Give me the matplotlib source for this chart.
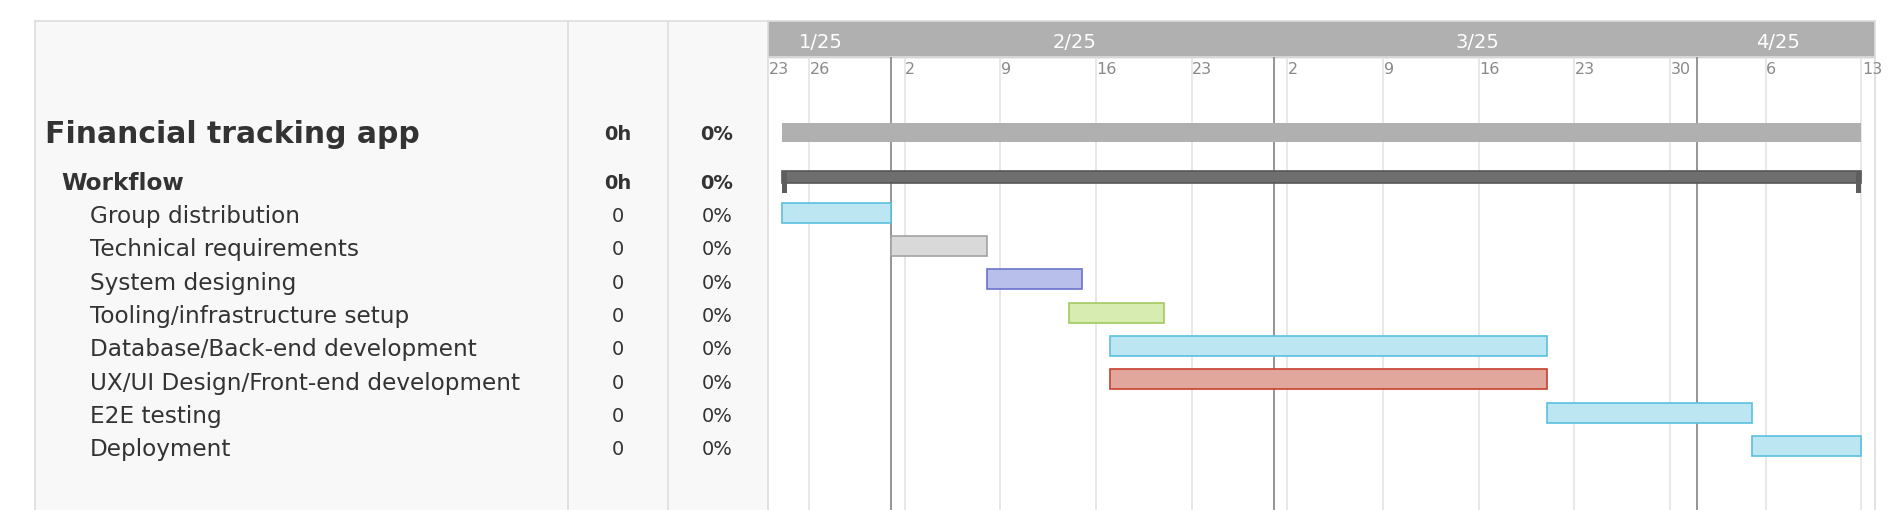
import matplotlib.pyplot as plt
import matplotlib.dates as mdates
import pandas as pd

# data
project_name = 'Financial tracking app'
group_name = 'Workflow'
tasks = ['Group distribution', 'Technical requirements', 'System designing',
         'Tooling/infrastructure setup', 'Database/Back-end development',
         'UX/UI Design/Front-end development', 'E2E testing', 'Deployment']
starts = ['2025-01-24', '2025-02-01', '2025-02-08', '2025-02-14',
          '2025-02-17', '2025-02-17', '2025-03-21', '2025-04-05']
ends = ['2025-02-01', '2025-02-08', '2025-02-15', '2025-02-21',
        '2025-03-21', '2025-03-21', '2025-04-05', '2025-04-13']
hours = ['0', '0', '0', '0', '0', '0', '0', '0']
progress = ['0%', '0%', '0%', '0%', '0%', '0%', '0%', '0%']
project_hours = '0h'
project_progress = '0%'
view_start = '2025-01-23'
view_end = '2025-04-14'

fills = ['#bce6f1', '#d9d9d9', '#b8bfeb', '#d7ecb0',
         '#bce6f1', '#e1a79c', '#bce6f1', '#bce6f1']
edges = ['#5bc0de', '#a3a3a3', '#6a73c9', '#a2c95f',
         '#5bc0de', '#c8402e', '#5bc0de', '#5bc0de']

s = mdates.date2num(pd.to_datetime(starts))
e = mdates.date2num(pd.to_datetime(ends))
v0 = mdates.date2num(pd.Timestamp(view_start))
v1 = mdates.date2num(pd.Timestamp(view_end))
p0, p1 = s.min(), e.max()

W, H = 1888, 510
top = 21
row = 33.33
ymax = (H - top) / row
head = 36 / row

fig = plt.figure(figsize=(W / 100, H / 100 + 0.001), dpi=100)
table = fig.add_axes([35 / W, 0, (768 - 35) / W, (H - top) / H])
gantt = fig.add_axes([768 / W, 0, (1875 - 768) / W, (H - top) / H])

for ax in (table, gantt):
    ax.set_ylim(ymax, 0)
    ax.set_xticks([])
    ax.set_yticks([])
    ax.spines['bottom'].set_visible(False)
    for sp in ('left', 'top', 'right'):
        ax.spines[sp].set_color('#dddddd')
        ax.spines[sp].set_linewidth(1.2)

# left table
table.set_facecolor('#f8f8f8')
table.set_xlim(0, 733)
table.spines['right'].set_visible(False)
table.axvline(533, color='#dddddd', lw=1.2)
table.axvline(633, color='#dddddd', lw=1.2)

y_proj = 3.4
y_group = 4.87
y_tasks = [5.86 + i for i in range(len(tasks))]

table.text(9.8, y_proj, project_name, fontsize=21.5, fontweight='bold',
           color='#333333', va='center')
table.text(583, y_proj, project_hours, fontsize=14, fontweight='bold',
           color='#333333', va='center', ha='center')
table.text(682, y_proj, project_progress, fontsize=14, fontweight='bold',
           color='#333333', va='center', ha='center')
table.text(26, y_group, group_name, fontsize=16.7, fontweight='bold',
           color='#333333', va='center')
table.text(583, y_group, project_hours, fontsize=14, fontweight='bold',
           color='#333333', va='center', ha='center')
table.text(682, y_group, project_progress, fontsize=14, fontweight='bold',
           color='#333333', va='center', ha='center')
for y, name, h, p in zip(y_tasks, tasks, hours, progress):
    table.text(54.6, y, name, fontsize=16.7, color='#333333', va='center')
    table.text(583, y, h, fontsize=14, color='#333333', va='center', ha='center')
    table.text(682, y, p, fontsize=14, color='#333333', va='center', ha='center')

# gantt grid and header
gantt.set_xlim(v0, v1)
gantt.axhspan(0, head, color='#b0b0b0', zorder=0)
gantt.axhline(head, color='#dddddd', lw=1.2, zorder=1)

weeks = pd.date_range('2025-01-26', view_end, freq='7D')
wk = mdates.date2num(weeks)
gantt.vlines(wk, head, ymax, color='#e2e2e2', lw=1.1, zorder=0)
months = pd.date_range('2025-02-01', view_end, freq='MS')
gantt.vlines(mdates.date2num(months), head, ymax, color='#8c8c8c', lw=1.3, zorder=1)

for d in [pd.Timestamp(view_start)] + list(weeks):
    gantt.text(mdates.date2num(d) + 0.05, 1.46, str(d.day), fontsize=11.5,
               color='#8a8a8a', va='center', ha='left')

for m in pd.date_range('2025-01-01', view_end, freq='MS'):
    a = max(mdates.date2num(m), v0)
    b = min(mdates.date2num(m + pd.offsets.MonthBegin(1)), v1)
    gantt.text((a + b) / 2 - 0.6, 0.65, f'{m.month}/{m.year % 100}',
               fontsize=14, color='white', va='center', ha='center')

# bars
gantt.barh(3.345, p1 - p0, left=p0, height=0.55, color='#b0b0b0', zorder=2)
gantt.barh(4.67, p1 - p0, left=p0, height=0.36, color='#6e6e6e',
           edgecolor='#575757', lw=1.2, zorder=2)
gantt.barh(4.83, 0.37, left=p0, height=0.68, color='#5e5e5e', zorder=2)
gantt.barh(4.83, 0.37, left=p1 - 0.37, height=0.68, color='#5e5e5e', zorder=2)

for i in range(len(tasks)):
    gantt.barh(5.75 + i, e[i] - s[i], left=s[i], height=0.6,
               color=fills[i], edgecolor=edges[i], lw=1.2, zorder=2)

fig.savefig('out.png', dpi=100)
plt.close(fig)
